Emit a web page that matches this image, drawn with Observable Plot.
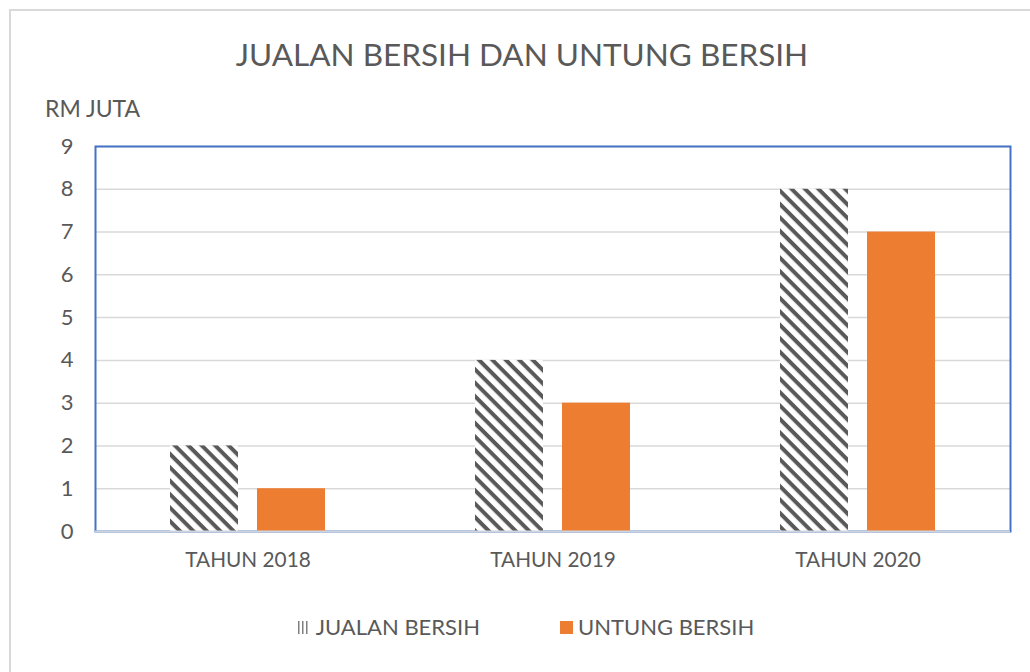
<!DOCTYPE html>
<html>
<head>
<meta charset="utf-8">
<script src="https://cdn.jsdelivr.net/npm/d3@7"></script>
<script src="https://cdn.jsdelivr.net/npm/@observablehq/plot@0.6"></script>
<style>
  html, body { margin: 0; padding: 0; background: #fff; }
  body { width: 1030px; height: 672px; position: relative; overflow: hidden; font-family: Lato, "Open Sans", sans-serif; color: #595959; }
  #outer { position: absolute; left: 9px; top: 9px; width: 1040px; height: 700px; border-left: 2px solid #d9d9d9; border-top: 2px solid #d9d9d9; box-sizing: border-box; }
  #title { position: absolute; left: 0; width: 1044px; top: 34px; text-align: center; font-size: 31.5px; line-height: 40px; white-space: nowrap; }
  #ylabel { position: absolute; left: 45px; top: 94px; font-size: 23px; line-height: 28px; white-space: nowrap; }
  #chart { position: absolute; left: 0; top: 120px; }
  #legend { position: absolute; left: 11px; width: 1030px; top: 613px; display: flex; justify-content: center; font-size: 22px; line-height: 28px; white-space: nowrap; }
  .item { display: flex; align-items: center; margin: 0 40px; }
  .item svg { margin-right: 5px; }
</style>
</head>
<body>
<div id="outer"></div>
<div id="title"></div>
<div id="ylabel"></div>
<div id="chart"></div>
<div id="legend"></div>
<script>
// ---- data ----
const titleText = "JUALAN BERSIH DAN UNTUNG BERSIH";
const yLabel = "RM JUTA";
const years = ["TAHUN 2018", "TAHUN 2019", "TAHUN 2020"];
const seriesNames = ["JUALAN BERSIH", "UNTUNG BERSIH"];
const jualanBersih = [2, 4, 8];
const untungBersih = [1, 3, 7];
const yTicks = [0, 1, 2, 3, 4, 5, 6, 7, 8, 9];

const orange = "#ed7d31";
const hatchColor = "#595959";

document.getElementById("title").textContent = titleText;
document.getElementById("ylabel").textContent = yLabel;

const jualanData = years.map((y, i) => ({year: y, value: jualanBersih[i]}));
const untungData = years.map((y, i) => ({year: y, value: untungBersih[i]}));

const chart = Plot.plot({
  width: 1030,
  height: 460,
  marginTop: 26,
  marginBottom: 49,
  marginLeft: 95,
  marginRight: 20,
  style: {fontFamily: "Lato, 'Open Sans', sans-serif", fontSize: "22px", color: "#595959", background: "transparent"},
  x: {domain: years, padding: 0, label: null, tickSize: 0, tickPadding: 21},
  y: {domain: [0, 9], ticks: yTicks, label: null, tickSize: 0, tickPadding: 22},
  marks: [
    Plot.gridY(yTicks, {stroke: "#d9d9d9", strokeOpacity: 1, strokeWidth: 1.5}),
    Plot.frame({stroke: "#4472c4", strokeWidth: 2}),
    Plot.barY(jualanData, {x: "year", y: "value", fill: "url(#hatch)", insetLeft: 75, insetRight: 162}),
    Plot.barY(untungData, {x: "year", y: "value", fill: orange, insetLeft: 162, insetRight: 75}),
    Plot.ruleY([0], {stroke: "#cfd5df", strokeWidth: 2})
  ]
});

d3.select(chart).selectAll("g[aria-label='x-axis tick label'] text, g[aria-label='x-axis tick label']").style("font-size", "20.8px");

// hatch pattern
const defs = d3.select(chart).insert("defs", ":first-child");
const pat = defs.append("pattern")
  .attr("id", "hatch")
  .attr("patternUnits", "userSpaceOnUse")
  .attr("width", 9.5).attr("height", 9.5)
  .attr("patternTransform", "rotate(45)");
pat.append("rect").attr("width", 9.5).attr("height", 9.5).attr("fill", "#fff");
pat.append("rect").attr("width", 9.5).attr("height", 4).attr("fill", hatchColor);

document.getElementById("chart").appendChild(chart);

// legend
const legend = d3.select("#legend");
seriesNames.forEach((name, i) => {
  const item = legend.append("div").attr("class", "item");
  const sw = item.append("svg").attr("width", 13).attr("height", 13);
  if (i === 0) {
    const p = sw.append("defs").append("pattern")
      .attr("id", "hatchLegend").attr("patternUnits", "userSpaceOnUse")
      .attr("width", 4).attr("height", 13);
    p.append("rect").attr("width", 4).attr("height", 13).attr("fill", "#fff");
    p.append("rect").attr("width", 1.5).attr("height", 13).attr("fill", "#7f7f7f");
    sw.append("rect").attr("width", 10).attr("height", 13).attr("fill", "url(#hatchLegend)");
  } else {
    sw.append("rect").attr("width", 13).attr("height", 13).attr("fill", orange);
  }
  item.append("span").text(name);
});
</script>
</body>
</html>
